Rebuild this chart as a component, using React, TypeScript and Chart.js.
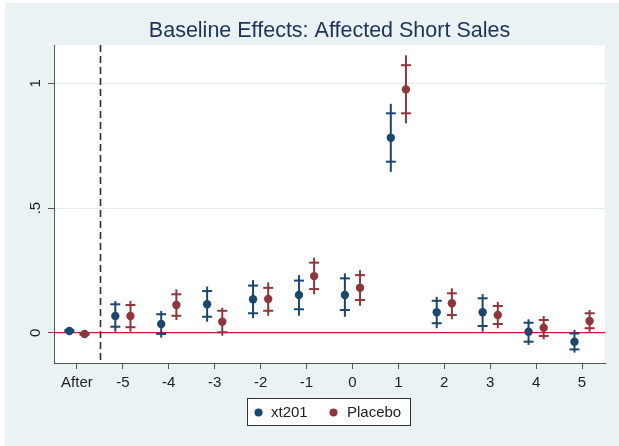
import React, { useEffect, useRef } from "react";
import { Chart, registerables } from "chart.js";

Chart.register(...registerables);

// ---------- data ----------
const categories = ["After", "-5", "-4", "-3", "-2", "-1", "0", "1", "2", "3", "4", "5"];
const positions = [-6, -5, -4, -3, -2, -1, 0, 1, 2, 3, 4, 5];
const yTickValues = [0, 0.5, 1];
const yTickLabels = ["0", ".5", "1"];
const seriesNames = ["xt201", "Placebo"];

const xt201Est = [0.007, 0.067, 0.035, 0.114, 0.134, 0.151, 0.151, 0.782, 0.082, 0.082, 0.004, -0.036];
const xt201CapLo = [0.004, 0.024, -0.005, 0.064, 0.078, 0.094, 0.091, 0.686, 0.038, 0.027, -0.036, -0.067];
const xt201CapHi = [0.010, 0.114, 0.074, 0.167, 0.189, 0.209, 0.218, 0.88, 0.128, 0.138, 0.04, -0.003];
const xt201Lo = [0.003, 0.004, -0.02, 0.044, 0.058, 0.068, 0.064, 0.645, 0.018, 0.004, -0.049, -0.08];
const xt201Hi = [0.011, 0.127, 0.087, 0.185, 0.211, 0.231, 0.238, 0.918, 0.144, 0.155, 0.054, 0.011];

const placeboEst = [-0.005, 0.067, 0.111, 0.044, 0.135, 0.227, 0.18, 0.976, 0.118, 0.071, 0.02, 0.047];
const placeboCapLo = [-0.008, 0.022, 0.068, 0.002, 0.088, 0.175, 0.131, 0.88, 0.071, 0.035, -0.013, 0.018];
const placeboCapHi = [-0.002, 0.111, 0.154, 0.088, 0.18, 0.281, 0.231, 1.073, 0.158, 0.107, 0.051, 0.078];
const placeboLo = [-0.009, 0.004, 0.051, -0.012, 0.068, 0.154, 0.108, 0.84, 0.054, 0.018, -0.027, 0.004];
const placeboHi = [-0.001, 0.127, 0.174, 0.1, 0.202, 0.301, 0.251, 1.113, 0.178, 0.124, 0.067, 0.091];

// ---------- style ----------
const BLUE = "#1A476F";
const RED = "#90353B";
const BG = "#EAF2F3";
const AXIS = "#555555";
const TEXT = "#222222";
const FONT = "'Liberation Sans', Arial, sans-serif";
const OFFSET = 0.165;
const SERIES_OFFSETS = [-OFFSET, OFFSET];

const seriesData = [
  { est: xt201Est, capLo: xt201CapLo, capHi: xt201CapHi, lo: xt201Lo, hi: xt201Hi, color: BLUE },
  { est: placeboEst, capLo: placeboCapLo, capHi: placeboCapHi, lo: placeboLo, hi: placeboHi, color: RED },
];

export default function App() {
  const ref = useRef<HTMLCanvasElement>(null);

  useEffect(() => {
    const canvas = ref.current;
    if (!canvas) return;

    const decor = {
      id: "stataDecor",
      beforeDraw(chart: any) {
        const ctx = chart.ctx;
        ctx.save();
        ctx.fillStyle = "#ffffff";
        ctx.fillRect(0, 0, chart.width, chart.height);
        ctx.fillStyle = BG;
        ctx.fillRect(5, 3, chart.width - 5, chart.height - 3);
        const a = chart.chartArea;
        ctx.fillStyle = "#ffffff";
        ctx.fillRect(a.left, a.top, a.right - a.left, a.bottom - a.top);
        ctx.restore();
      },
      beforeDatasetsDraw(chart: any) {
        const ctx = chart.ctx;
        const a = chart.chartArea;
        const xs = chart.scales.x;
        const ys = chart.scales.y;
        ctx.save();
        // zero line
        const y0 = ys.getPixelForValue(0);
        ctx.strokeStyle = "#D0143E";
        ctx.lineWidth = 1.3;
        ctx.beginPath();
        ctx.moveTo(a.left, y0);
        ctx.lineTo(a.right, y0);
        ctx.stroke();
        // dashed separator
        const xd = Math.round(xs.getPixelForValue(-5.5)) + 0.5;
        ctx.strokeStyle = "#2E2E2E";
        ctx.lineWidth = 1.6;
        ctx.setLineDash([7, 4]);
        ctx.beginPath();
        ctx.moveTo(xd, a.top);
        ctx.lineTo(xd, a.bottom);
        ctx.stroke();
        ctx.setLineDash([]);
        // whiskers & caps
        seriesData.forEach((s, si) => {
          ctx.strokeStyle = s.color;
          ctx.lineWidth = 2;
          positions.forEach((p, i) => {
            const x = xs.getPixelForValue(p + SERIES_OFFSETS[si]);
            ctx.beginPath();
            ctx.moveTo(x, ys.getPixelForValue(s.lo[i]));
            ctx.lineTo(x, ys.getPixelForValue(s.hi[i]));
            ctx.stroke();
            [s.capLo[i], s.capHi[i]].forEach((v) => {
              const y = ys.getPixelForValue(v);
              ctx.beginPath();
              ctx.moveTo(x - 5, y);
              ctx.lineTo(x + 5, y);
              ctx.stroke();
            });
          });
        });
        ctx.restore();
      },
      afterDraw(chart: any) {
        const ctx = chart.ctx;
        const a = chart.chartArea;
        const ys = chart.scales.y;
        ctx.save();
        // title
        ctx.fillStyle = "#1E325C";
        ctx.font = `21.5px ${FONT}`;
        ctx.textAlign = "center";
        ctx.textBaseline = "middle";
        ctx.fillText("Baseline Effects: Affected Short Sales", (a.left + a.right) / 2, 31);
        // rotated y tick labels
        ctx.fillStyle = TEXT;
        ctx.font = `15px ${FONT}`;
        yTickValues.forEach((v, i) => {
          const y = ys.getPixelForValue(v);
          ctx.save();
          ctx.translate(36, y);
          ctx.rotate(-Math.PI / 2);
          ctx.textAlign = "center";
          ctx.textBaseline = "middle";
          ctx.fillText(yTickLabels[i], 0, 0);
          ctx.restore();
        });
        // legend
        ctx.fillStyle = "#ffffff";
        ctx.fillRect(247.5, 398.5, 163, 27);
        ctx.strokeStyle = "#333333";
        ctx.lineWidth = 1;
        ctx.strokeRect(247.5, 398.5, 163, 27);
        const items = [
          { x: 258.5, tx: 271, color: BLUE },
          { x: 333.5, tx: 347, color: RED },
        ];
        items.forEach((it, i) => {
          ctx.fillStyle = it.color;
          ctx.beginPath();
          ctx.arc(it.x, 412.5, 4, 0, Math.PI * 2);
          ctx.fill();
          ctx.fillStyle = TEXT;
          ctx.textAlign = "left";
          ctx.textBaseline = "middle";
          ctx.fillText(seriesNames[i], it.tx, 413);
        });
        ctx.restore();
      },
    };

    const chart = new Chart(canvas, {
      type: "scatter",
      data: {
        datasets: seriesData.map((s, si) => ({
          label: seriesNames[si],
          data: positions.map((p, i) => ({ x: p + SERIES_OFFSETS[si], y: s.est[i] })),
          backgroundColor: s.color,
          borderColor: s.color,
          borderWidth: 0,
          pointRadius: 4.2,
          pointHoverRadius: 4.2,
        })),
      },
      options: {
        responsive: false,
        animation: false,
        events: [],
        layout: { padding: { top: 45, right: 14, left: 0, bottom: 0 } },
        plugins: {
          legend: { display: false },
          title: { display: false },
          tooltip: { enabled: false },
        },
        scales: {
          x: {
            type: "linear",
            min: -6.5,
            max: 5.5,
            afterBuildTicks: (s: any) => {
              s.ticks = positions.map((v) => ({ value: v }));
            },
            afterFit: (s: any) => {
              s.height = 83;
            },
            grid: {
              drawOnChartArea: false,
              drawTicks: true,
              tickLength: 6,
              tickColor: AXIS,
              color: AXIS,
            },
            border: { color: AXIS, width: 1 },
            ticks: {
              autoSkip: false,
              maxRotation: 0,
              minRotation: 0,
              padding: 5,
              color: TEXT,
              font: { family: FONT, size: 15 },
              callback: (v: any) => {
                const idx = positions.indexOf(Number(v));
                return idx >= 0 ? categories[idx] : "";
              },
            },
          },
          y: {
            type: "linear",
            min: -0.1215,
            max: 1.154,
            afterBuildTicks: (s: any) => {
              s.ticks = yTickValues.map((v) => ({ value: v }));
            },
            afterFit: (s: any) => {
              s.width = 54;
            },
            grid: {
              drawTicks: true,
              tickLength: 6,
              tickColor: AXIS,
              color: (c: any) => (c.tick && c.tick.value === 0 ? "rgba(0,0,0,0)" : "#E3ECEE"),
              lineWidth: 1,
            },
            border: { color: AXIS, width: 1 },
            ticks: { display: false },
          },
        },
      },
      plugins: [decor],
    } as any);

    return () => chart.destroy();
  }, []);

  return (
    <div style={{ position: "absolute", left: 0, top: 0, width: 619, height: 446 }}>
      <canvas ref={ref} width={619} height={446} style={{ display: "block", width: 619, height: 446 }} />
    </div>
  );
}
